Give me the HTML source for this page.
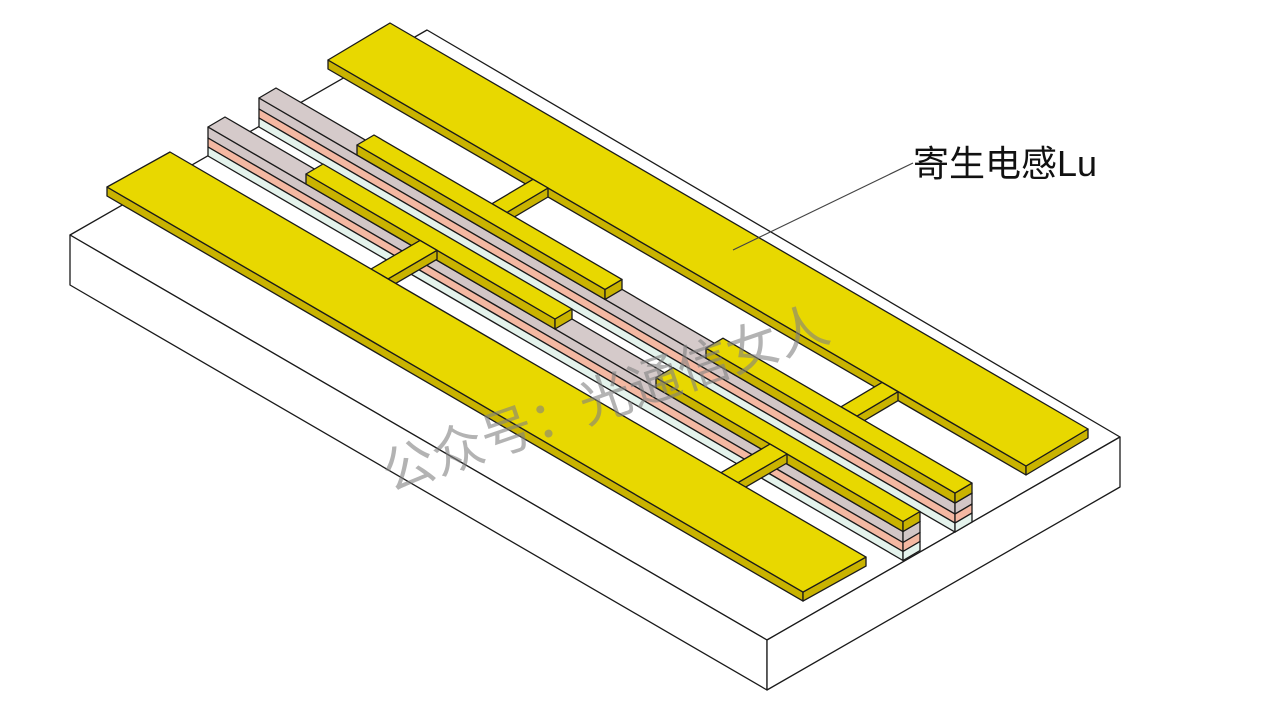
<!DOCTYPE html>
<html><head><meta charset="utf-8"><style>
html,body{margin:0;padding:0;background:#fff;}
svg{display:block;}
</style></head><body>
<svg width="1269" height="714" viewBox="0 0 1269 714" xmlns="http://www.w3.org/2000/svg">
<g stroke="#1a1a1a" stroke-width="1.3" stroke-linejoin="round">
<!-- slab -->
<polygon points="70,235 427,30 1120,437 767,640" fill="#fff"/>
<polygon points="70,235 767,640 767,690 70,285" fill="#fff"/>
<polygon points="767,640 1120,437 1120,487 767,690" fill="#fff"/>

<!-- top pad -->
<polygon points="328,60 1026,466 1026,475 328,69" fill="#c9b300"/>
<polygon points="1026,466 1088,429 1088,438 1026,475" fill="#c9b300"/>
<polygon points="328,60 390,23 1088,429 1026,466" fill="#e8d800"/>
<!-- bridges A,B -->
<polygon points="548,188 507,212.4 507,221.4 548,197" fill="#c9b300"/>
<polygon points="533,179.3 548,188 507,212.4 492,203.7" fill="#e8d800"/>
<polygon points="898,391.7 857,416.1 857,425 898,400.7" fill="#c9b300"/>
<polygon points="882,382.4 898,391.7 857,416.1 841,406.8" fill="#e8d800"/>

<!-- upper stack -->
<polygon points="259,98 955,503.1 955,514.1 259,109" fill="#d2c6c6"/>
<polygon points="259,109 955,514.1 955,523.1 259,118" fill="#f4b8a2"/>
<polygon points="259,118 955,523.1 955,532.1 259,127" fill="#e4f3ec"/>
<polygon points="955,503.1 972,493.1 972,504.1 955,514.1" fill="#d2c6c6"/>
<polygon points="955,514.1 972,504.1 972,513.1 955,523.1" fill="#f4b8a2"/>
<polygon points="955,523.1 972,513.1 972,522.1 955,532.1" fill="#e4f3ec"/>
<polygon points="259,98 276,88 972,493.1 955,503.1" fill="#d5caca"/>
<!-- S1 cap -->
<polygon points="357,145 605,289.4 605,299.4 357,155" fill="#c9b300"/>
<polygon points="605,289.4 622,279.4 622,289.4 605,299.4" fill="#c9b300"/>
<polygon points="357,145 374,135 622,279.4 605,289.4" fill="#e8d800"/>
<!-- S2 cap -->
<polygon points="706,348.2 955,493.1 955,503.1 706,358.2" fill="#c9b300"/>
<polygon points="955,493.1 972,483.1 972,493.1 955,503.1" fill="#c9b300"/>
<polygon points="706,348.2 723,338.2 972,483.1 955,493.1" fill="#e8d800"/>

<!-- lower stack -->
<polygon points="208,127 903,531.5 903,542.5 208,138" fill="#d2c6c6"/>
<polygon points="208,138 903,542.5 903,551.5 208,147" fill="#f4b8a2"/>
<polygon points="208,147 903,551.5 903,560.5 208,156" fill="#e4f3ec"/>
<polygon points="903,531.5 920,521.5 920,532.5 903,542.5" fill="#d2c6c6"/>
<polygon points="903,542.5 920,532.5 920,541.5 903,551.5" fill="#f4b8a2"/>
<polygon points="903,551.5 920,541.5 920,550.5 903,560.5" fill="#e4f3ec"/>
<polygon points="208,127 225,117 920,521.5 903,531.5" fill="#d5caca"/>
<!-- T1 cap -->
<polygon points="306,174 555,319 555,329 306,184" fill="#c9b300"/>
<polygon points="555,319 572,309 572,319 555,329" fill="#c9b300"/>
<polygon points="306,174 323,164 572,309 555,319" fill="#e8d800"/>
<!-- T2 cap -->
<polygon points="656,377.7 903,521.5 903,531.5 656,387.7" fill="#c9b300"/>
<polygon points="903,521.5 920,511.5 920,521.5 903,531.5" fill="#c9b300"/>
<polygon points="656,377.7 673,367.7 920,511.5 903,521.5" fill="#e8d800"/>

<!-- bridges C,D -->
<polygon points="437,250.3 388,278.9 388,287.9 437,259.3" fill="#c9b300"/>
<polygon points="420,240.4 437,250.3 388,278.9 371,269" fill="#e8d800"/>
<polygon points="787,454 738,482.6 738,491.6 787,463" fill="#c9b300"/>
<polygon points="770,444.1 787,454 738,482.6 721,472.7" fill="#e8d800"/>

<!-- bottom pad -->
<polygon points="107,187 803,592.1 803,601.1 107,196" fill="#c9b300"/>
<polygon points="803,592.1 866,557.1 866,566.1 803,601.1" fill="#c9b300"/>
<polygon points="107,187 170,152 866,557.1 803,592.1" fill="#e8d800"/>
</g>

<!-- label -->
<line x1="913" y1="163" x2="733" y2="250" stroke="#444" stroke-width="1.2"/>
<text x="913" y="176" font-family="'Liberation Sans','Noto Sans CJK SC',sans-serif" font-size="36" fill="#111">寄生电感Lu</text>

<!-- watermark -->
<text x="0" y="0" transform="translate(390,492) rotate(-19)" font-family="'Liberation Sans','Noto Sans CJK SC',sans-serif" font-size="52" fill="#808080" fill-opacity="0.6">公众号：光通信女人</text>
</svg>
</body></html>
